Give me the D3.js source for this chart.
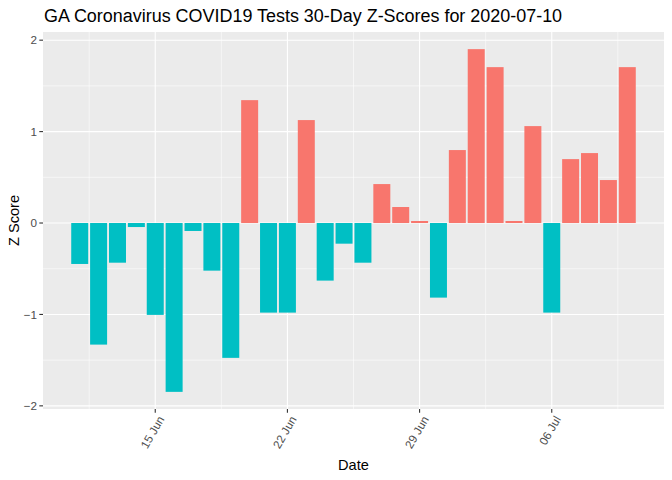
<!DOCTYPE html>
<html>
<head>
<meta charset="utf-8">
<script src="https://cdn.jsdelivr.net/npm/d3@7"></script>
<style>
  body { margin: 0; background: #ffffff; }
  svg { display: block; font-family: "Liberation Sans", Arial, sans-serif; }
</style>
</head>
<body>
<svg id="chart" width="672" height="480"></svg>
<script>
// ---- Data ----
const dates = [
  "2020-06-11","2020-06-12","2020-06-13","2020-06-14","2020-06-15","2020-06-16",
  "2020-06-17","2020-06-18","2020-06-19","2020-06-20","2020-06-21","2020-06-22",
  "2020-06-23","2020-06-24","2020-06-25","2020-06-26","2020-06-27","2020-06-28",
  "2020-06-29","2020-06-30","2020-07-01","2020-07-02","2020-07-03","2020-07-04",
  "2020-07-05","2020-07-06","2020-07-07","2020-07-08","2020-07-09","2020-07-10"
];
const zScores = [
  -0.448, -1.330, -0.434, -0.044, -1.005, -1.847,
  -0.087, -0.521, -1.475, 1.344, -0.980, -0.980,
  1.126, -0.630, -0.226, -0.434, 0.426, 0.175,
  0.022, -0.816, 0.798, 1.902, 1.705, 0.022,
  1.060, -0.980, 0.699, 0.765, 0.470, 1.705
];
const xTickDates = ["2020-06-15","2020-06-22","2020-06-29","2020-07-06"];
const xTickLabels = ["15 Jun","22 Jun","29 Jun","06 Jul"];
const xMinorDates = ["2020-06-11T12:00","2020-06-18T12:00","2020-06-25T12:00","2020-07-02T12:00","2020-07-09T12:00"];
const yTicks = [-2, -1, 0, 1, 2];
const yMinor = [-1.5, -0.5, 0.5, 1.5];
const title = "GA Coronavirus COVID19 Tests 30-Day Z-Scores for 2020-07-10";

// ---- Layout ----
const svg = d3.select("#chart");
const panel = { left: 43, right: 664, top: 32, bottom: 409 };
const parse = d3.utcParse("%Y-%m-%d");
const parseT = d3.utcParse("%Y-%m-%dT%H:%M");
const data = dates.map((d, i) => ({ date: parse(d), z: zScores[i] }));
const DAY = 86400000;

const xMin = d3.min(data, d => +d.date) - 0.45 * DAY;
const xMax = d3.max(data, d => +d.date) + 0.45 * DAY;
const xPad = (xMax - xMin) * 0.05;
const x = d3.scaleUtc()
  .domain([new Date(xMin - xPad), new Date(xMax + xPad)])
  .range([panel.left, panel.right]);

const yLo = Math.min(0, d3.min(zScores)), yHi = Math.max(0, d3.max(zScores));
const yPad = (yHi - yLo) * 0.05;
const y = d3.scaleLinear()
  .domain([yLo - yPad, yHi + yPad])
  .range([panel.bottom, panel.top]);

// Panel background
svg.append("rect")
  .attr("x", panel.left).attr("y", panel.top)
  .attr("width", panel.right - panel.left).attr("height", panel.bottom - panel.top)
  .attr("fill", "#EBEBEB");

const grid = svg.append("g");
// minor grid
grid.selectAll("line.ymin").data(yMinor).enter().append("line")
  .attr("x1", panel.left).attr("x2", panel.right)
  .attr("y1", d => y(d)).attr("y2", d => y(d))
  .attr("stroke", "#fff").attr("stroke-width", 0.55);
grid.selectAll("line.xmin").data(xMinorDates.map(parseT)).enter().append("line")
  .attr("y1", panel.top).attr("y2", panel.bottom)
  .attr("x1", d => x(d)).attr("x2", d => x(d))
  .attr("stroke", "#fff").attr("stroke-width", 0.55);
// major grid
grid.selectAll("line.ymaj").data(yTicks).enter().append("line")
  .attr("x1", panel.left).attr("x2", panel.right)
  .attr("y1", d => y(d)).attr("y2", d => y(d))
  .attr("stroke", "#fff").attr("stroke-width", 1.1);
grid.selectAll("line.xmaj").data(xTickDates.map(parse)).enter().append("line")
  .attr("y1", panel.top).attr("y2", panel.bottom)
  .attr("x1", d => x(d)).attr("x2", d => x(d))
  .attr("stroke", "#fff").attr("stroke-width", 1.1);

// Bars
const bw = x(new Date(0.9 * DAY)) - x(new Date(0));
svg.append("g").selectAll("rect").data(data).enter().append("rect")
  .attr("x", d => x(d.date) - bw / 2)
  .attr("width", bw)
  .attr("y", d => y(Math.max(0, d.z)))
  .attr("height", d => Math.abs(y(d.z) - y(0)))
  .attr("fill", d => d.z > 0 ? "#F8766D" : "#00BFC4");

// Y axis
const yAxis = svg.append("g");
yAxis.selectAll("line").data(yTicks).enter().append("line")
  .attr("x1", panel.left - 3.7).attr("x2", panel.left)
  .attr("y1", d => y(d)).attr("y2", d => y(d))
  .attr("stroke", "#333333").attr("stroke-width", 1.1);
yAxis.selectAll("text").data(yTicks).enter().append("text")
  .attr("x", panel.left - 6).attr("y", d => y(d))
  .attr("dy", "0.35em")
  .attr("text-anchor", "end")
  .attr("font-size", "11.7px").attr("fill", "#4D4D4D")
  .text(d => d3.format("d")(d));

// X axis
const xAxis = svg.append("g");
const xt = xTickDates.map(parse);
xAxis.selectAll("line").data(xt).enter().append("line")
  .attr("y1", panel.bottom).attr("y2", panel.bottom + 3.7)
  .attr("x1", d => x(d)).attr("x2", d => x(d))
  .attr("stroke", "#333333").attr("stroke-width", 1.1);
xAxis.selectAll("text").data(xt).enter().append("text")
  .attr("transform", d => `translate(${x(d) + 6},${panel.bottom + 8}) rotate(-60)`)
  .attr("text-anchor", "end")
  .attr("dy", "0.35em")
  .attr("font-size", "11.7px").attr("fill", "#4D4D4D")
  .text((d, i) => xTickLabels[i]);

// Axis titles
svg.append("text")
  .attr("x", (panel.left + panel.right) / 2).attr("y", 470)
  .attr("text-anchor", "middle")
  .attr("font-size", "14.6px").attr("fill", "#000")
  .text("Date");
svg.append("text")
  .attr("transform", `translate(19,${(panel.top + panel.bottom) / 2}) rotate(-90)`)
  .attr("text-anchor", "middle")
  .attr("font-size", "14.6px").attr("fill", "#000")
  .text("Z Score");

// Title
svg.append("text")
  .attr("x", 44).attr("y", 22)
  .attr("font-size", "17.95px").attr("fill", "#000")
  .text(title);
</script>
</body>
</html>
